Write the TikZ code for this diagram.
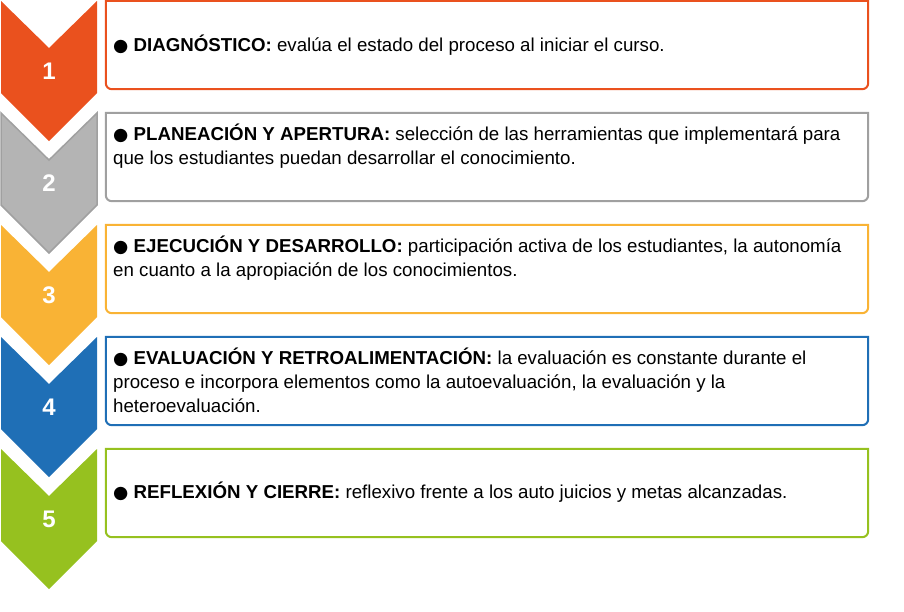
\documentclass[tikz,border=0pt]{standalone}
\usepackage{fontspec}
\setmainfont{Liberation Sans}
\newfontfamily\symfont{DejaVu Sans}
\usepackage{tikz}
\usetikzlibrary{positioning, calc}

\definecolor{stepOrange}{RGB}{234,81,30}
\definecolor{stepGray}{RGB}{180,180,180}
\definecolor{stepGrayLine}{RGB}{160,160,160}
\definecolor{stepYellow}{RGB}{249,179,53}
\definecolor{stepBlue}{RGB}{31,111,182}
\definecolor{stepGreen}{RGB}{150,193,31}

\begin{document}
\begin{tikzpicture}[x=1pt, y=-1pt,
                num/.style={text=white, font=\fontsize{24}{24}\selectfont\bfseries, inner sep=0pt},
                panel/.style={minimum width=762pt, minimum height=88pt, inner sep=0pt},
                frame/.style={line width=2pt},
                txt/.style={anchor=base west, align=left, inner sep=0pt,
                           font=\fontsize{18.7}{24}\selectfont}]

                \useasboundingbox (0,0) rectangle (904,611);

                % chevron 1 (orange)
                \fill[stepOrange] (1,1) -- (49,48) -- (97,1) -- (97,93) -- (49,141) -- (1,93) -- cycle;
                \node[num] (n1) at (49,71) {1};

                % chevron 2 (gray, with outline)
                \filldraw[fill=stepGray, draw=stepGrayLine, line width=1.5pt]
                    (1,113) -- (49,160) -- (97,113) -- (97,205) -- (49,253) -- (1,205) -- cycle;
                \node[num] (n2) at (49,183) {2};

                % chevron 3 (yellow)
                \fill[stepYellow] (1,225) -- (49,272) -- (97,225) -- (97,317) -- (49,365) -- (1,317) -- cycle;
                \node[num] (n3) at (49,295) {3};

                % chevron 4 (blue)
                \fill[stepBlue] (1,337) -- (49,384) -- (97,337) -- (97,429) -- (49,477) -- (1,429) -- cycle;
                \node[num] (n4) at (49,407) {4};

                % chevron 5 (green)
                \fill[stepGreen] (1,449) -- (49,496) -- (97,449) -- (97,541) -- (49,589) -- (1,541) -- cycle;
                \node[num] (n5) at (49,519) {5};

                % panels
                \node[panel] (b1) at (487,45) {};
                \draw[frame, stepOrange] (b1.north west) -- (b1.north east) [rounded corners=6pt] -- (b1.south east) -- (b1.south west) [sharp corners] -- cycle;
                \node[panel] (b2) at (487,157) {};
                \draw[frame, stepGrayLine] (b2.north west) -- (b2.north east) [rounded corners=6pt] -- (b2.south east) -- (b2.south west) [sharp corners] -- cycle;
                \node[panel] (b3) at (487,269) {};
                \draw[frame, stepYellow] (b3.north west) -- (b3.north east) [rounded corners=6pt] -- (b3.south east) -- (b3.south west) [sharp corners] -- cycle;
                \node[panel] (b4) at (487,381) {};
                \draw[frame, stepBlue] (b4.north west) -- (b4.north east) [rounded corners=6pt] -- (b4.south east) -- (b4.south west) [sharp corners] -- cycle;
                \node[panel] (b5) at (487,493) {};
                \draw[frame, stepGreen] (b5.north west) -- (b5.north east) [rounded corners=6pt] -- (b5.south east) -- (b5.south west) [sharp corners] -- cycle;

                % panel texts (base = last line)
                \node[txt] (t1) at (113,51) {{\symfont\fontsize{17.5}{17.5}\selectfont ●} \textbf{DIAGNÓSTICO:} evalúa el estado del proceso al iniciar el curso.};
                \node[txt] (t2) at (113,164) {{\symfont\fontsize{17.5}{17.5}\selectfont ●} \textbf{PLANEACIÓN Y APERTURA:} selección de las herramientas que implementará para\\
                    que los estudiantes puedan desarrollar el conocimiento.};
                \node[txt] (t3) at (113,276) {{\symfont\fontsize{17.5}{17.5}\selectfont ●} \textbf{EJECUCIÓN Y DESARROLLO:} participación activa de los estudiantes, la autonomía\\
                    en cuanto a la apropiación de los conocimientos.};
                \node[txt] (t4) at (113,412) {{\symfont\fontsize{17.5}{17.5}\selectfont ●} \textbf{EVALUACIÓN Y RETROALIMENTACIÓN:} la evaluación es constante durante el\\
                    proceso e incorpora elementos como la autoevaluación, la evaluación y la\\
                    heteroevaluación.};
                \node[txt] (t5) at (113,498) {{\symfont\fontsize{17.5}{17.5}\selectfont ●} \textbf{REFLEXIÓN Y CIERRE:} reflexivo frente a los auto juicios y metas alcanzadas.};
            \end{tikzpicture}
\end{document}
